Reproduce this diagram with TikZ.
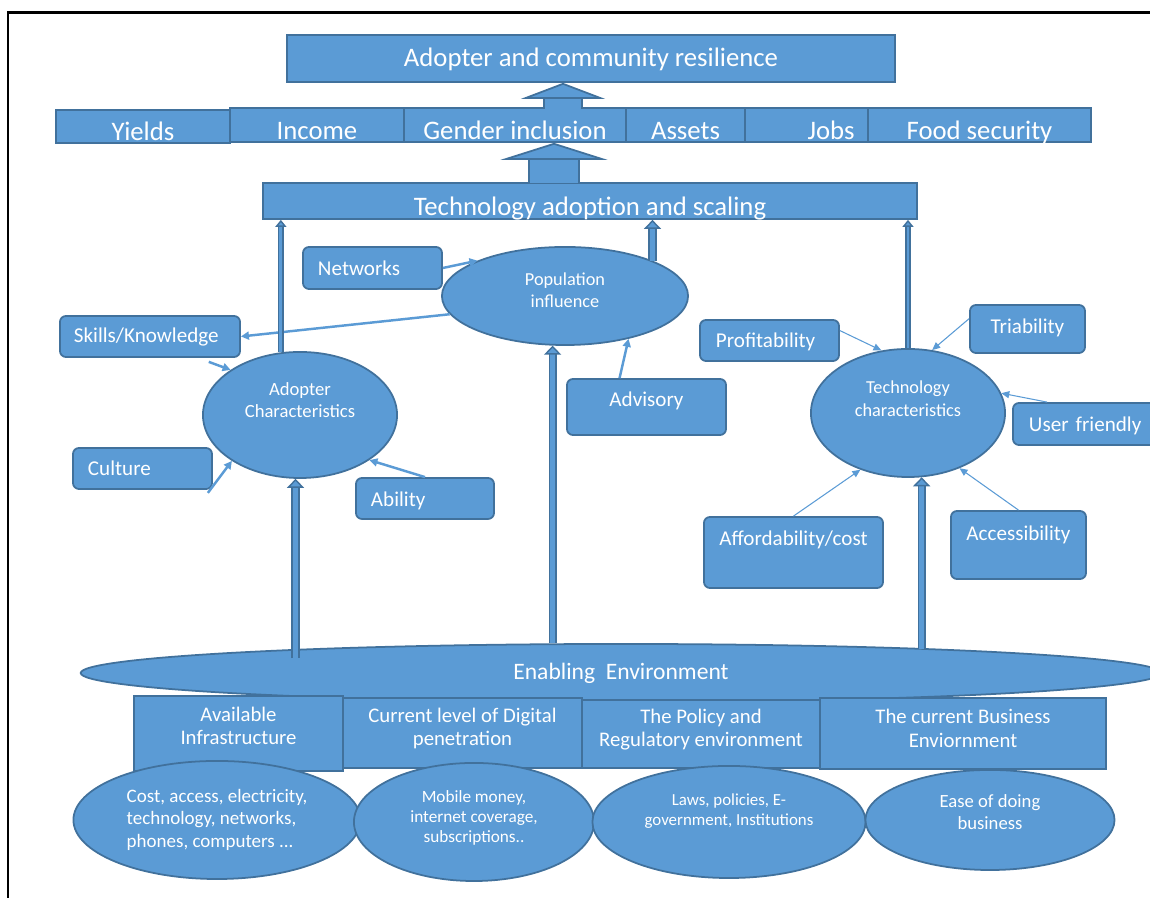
\documentclass[tikz,border=0pt]{standalone}
\usepackage{fontspec}
\setmainfont{Carlito}
\usetikzlibrary{shapes.geometric}
\usetikzlibrary{arrows.meta}
\definecolor{fillblue}{RGB}{91,155,213}
\definecolor{edgeblue}{RGB}{65,113,156}

\begin{document}
\begin{tikzpicture}[x=0.01cm, y=-0.01cm,
 box/.style={draw=edgeblue, fill=fillblue, text=white, line width=0.5pt, inner sep=0pt},
 band/.style={box, font=\fontsize{7.6}{9}\selectfont},
 rbox/.style={box, rounded corners=0.06cm, font=\fontsize{6}{7}\selectfont},
 lbox/.style={rbox, inner xsep=0.15cm, align=left, text width=#1},
 cbox/.style={rbox, minimum width=#1},
 base/.style={box, align=center, font=\fontsize{5.9}{6.7}\selectfont},
 oval/.style={ellipse, draw=edgeblue, fill=fillblue, text=white, line width=0.5pt, inner sep=0pt, align=center},
 lift/.style 2 args={text height=#1, text depth=#2},
 feed/.style={draw=fillblue, line width=0.7pt, -{Triangle[length=0.08cm, width=0.08cm]}},
 thinfeed/.style={draw=fillblue, line width=0.3pt, -{Triangle[length=0.08cm, width=0.07cm]}},
 upthin/.style={draw=edgeblue, line width=0.4pt, double=fillblue, double distance=0.8pt,
   -{Triangle[length=0.07cm, width=0.11cm, fill=fillblue, line width=0.4pt]}},
 upthick/.style={draw=edgeblue, line width=0.4pt, double=fillblue, double distance=1.5pt,
   -{Triangle[length=0.09cm, width=0.17cm, fill=fillblue, line width=0.4pt]}},
 bigup/.style n args={3}{draw=edgeblue, line width=0.5pt, double=fillblue, double distance=#1,
   -{Triangle[width=#2, length=#3, fill=fillblue, line width=0.5pt]}}]
\clip (0,0) rectangle (1150,898);
\draw[line width=0.85pt] (8,898) -- (8,13) -- (1150,13);

% outcomes
\node[band, minimum width=6.08cm, lift={0.32cm}{0.15cm}] (res) at (591,58.5) {Adopter and community resilience};
\node[band, minimum width=1.74cm, lift={0.31cm}{0.02cm}] (yld) at (143,126.5) {Yields};
\node[band, minimum width=1.74cm, lift={0.32cm}{0.02cm}] (inc) at (317,125) {Income};
\node[band, minimum width=2.22cm, lift={0.32cm}{0.02cm}] (gi) at (515,125) {Gender inclusion};
\node[band, minimum width=1.19cm, lift={0.32cm}{0.02cm}] (ast) at (685.5,125) {Assets};
\node[band, minimum width=1.72cm, lift={0.32cm}{0.02cm}] (jobs) at (831,125) {Jobs};
\node[band, minimum width=2.23cm, lift={0.32cm}{0.02cm}] (food) at (979.5,125) {Food security};
\node[band, minimum width=6.54cm, lift={0.33cm}{0.03cm}] (tas) at (590,201) {Technology adoption and scaling};

\coordinate (up1) at (563,109);
\draw[bigup={10.1pt}{0.84cm}{0.16cm}] (up1) -- (up1 |- res.south);
\coordinate (up2) at (554,183);
\draw[bigup={13.8pt}{1.07cm}{0.17cm}] (up2) -- (up2 |- gi.south);

% drivers
\node[oval, minimum width=2.46cm, minimum height=0.98cm, font=\fontsize{5.2}{6.5}\selectfont, lift={0.29cm}{0.05cm}] (pop) at (565,296) {Population\\influence};
\node[oval, minimum width=1.94cm, minimum height=1.26cm, font=\fontsize{5.3}{6.5}\selectfont, lift={0.11cm}{0.05cm}] (adopt) at (300,415) {Adopter\\Characteristics};
\node[oval, minimum width=1.94cm, minimum height=1.28cm, font=\fontsize{5.2}{6.7}\selectfont, lift={0.13cm}{0.05cm}] (tech) at (908,413) {Technology\\characteristics};

\node[lbox=1.09cm, lift={0.29cm}{0.13cm}] (net) at (372.5,268) {Networks};
\node[lbox=1.52cm, inner xsep=0.14cm, lift={0.27cm}{0.14cm}] (skl) at (150,336.5) {Skills/Knowledge};
\node[lbox=1.09cm, lift={0.28cm}{0.13cm}] (cult) at (142.5,468.5) {Culture};
\node[lbox=1.08cm, lift={0.29cm}{0.12cm}] (abil) at (425,498.5) {Ability};
\node[cbox=1.59cm, lift={0.28cm}{0.28cm}] (adv) at (646.5,407) {Advisory};
\node[lbox=1.07cm, inner xsep=0.16cm, lift={0.28cm}{0.13cm}] (prof) at (769.5,340.5) {Profitability};
\node[cbox=1.15cm, lift={0.29cm}{0.19cm}] (tri) at (1027.5,329) {Triability};
\node[lbox=1.3cm, inner xsep=0.16cm, lift={0.29cm}{0.13cm}] (uf) at (1094,424) {User friendly};
\node[cbox=1.79cm, lift={0.29cm}{0.42cm}] (aff) at (793.5,552.5) {Affordability/cost};
\node[cbox=1.35cm, lift={0.30cm}{0.38cm}] (acc) at (1018.5,545) {Accessibility};

% enabling environment
\node[oval, minimum width=10.8cm, minimum height=0.58cm, font=\fontsize{6.7}{8}\selectfont, lift={0.2cm}{0.06cm}] (env) at (621,673) {Enabling\ \ Environment};
\node[base, minimum width=2.09cm, minimum height=0.75cm, lift={0.28cm}{0.05cm}] (infr) at (238.5,733.5) {Available\\Infrastructure};
\node[base, minimum width=2.39cm, minimum height=0.70cm, lift={0.31cm}{0.05cm}] (digi) at (462.5,733) {Current level of Digital\\penetration};
\node[base, minimum width=2.38cm, minimum height=0.68cm, lift={0.31cm}{0.05cm}] (poli) at (701,734) {The Policy and\\Regulatory environment};
\node[base, minimum width=2.86cm, minimum height=0.71cm, lift={0.33cm}{0.05cm}] (busi) at (963,733.5) {The current Business\\Enviornment};
\node[oval, minimum width=2.87cm, minimum height=1.18cm, align=left, font=\fontsize{5.4}{6.3}\selectfont, lift={0.59cm}{0.05cm}] (cost) at (217,820) {Cost, access, electricity,\\technology, networks,\\phones, computers ...};
\node[oval, minimum width=2.40cm, minimum height=1.18cm, font=\fontsize{4.9}{5.7}\selectfont, lift={0.47cm}{0.05cm}] (mob) at (474,822) {Mobile money,\\internet coverage,\\subscriptions..};
\node[oval, minimum width=2.73cm, minimum height=1.12cm, font=\fontsize{4.8}{5.7}\selectfont, lift={0.13cm}{0.05cm}] (laws) at (729,822) {Laws, policies, E-\\government, Institutions};
\node[oval, minimum width=2.49cm, minimum height=1.0cm, font=\fontsize{5.3}{6.3}\selectfont, lift={0.25cm}{0.05cm}] (ease) at (990,820) {Ease of doing\\business};

% links
\draw[feed] (net.east) -- (pop.158);
\draw[feed] (pop.189) -- (skl.east);
\draw[feed] ([yshift=-0.04cm]skl.-20) -- (adopt.147);
\draw[feed] ([xshift=-0.05cm,yshift=-0.03cm]cult.south east) -- (adopt.214);
\draw[feed] (abil.north) -- (adopt.327);
\draw[feed] (adv.133) -- (pop.326);
\draw[thinfeed] (prof.8) -- (tech.113);
\draw[thinfeed] (tri.170) -- (tech.69);
\draw[thinfeed] (uf.155) -- (tech.12);
\draw[thinfeed] (aff.north) -- (tech.230);
\draw[thinfeed] (acc.north) -- (tech.313);

\draw[upthin] (adopt.107) -- (adopt.107 |- tas.south);
\draw[upthick] (pop.22) -- (pop.22 |- tas.south);
\draw[upthin] (tech.north) -- (tech.north |- tas.south);
\coordinate (envA) at (adopt.266 |- env.north);
\coordinate (envB) at (pop.256 |- env.north);
\coordinate (envC) at (tech.282 |- env.north);
\draw[upthick] ([yshift=-0.15cm]envA) -- (adopt.266);
\draw[upthick] (envB) -- (pop.256);
\draw[upthick] ([yshift=-0.06cm]envC) -- (tech.282);
\end{tikzpicture}
\end{document}
